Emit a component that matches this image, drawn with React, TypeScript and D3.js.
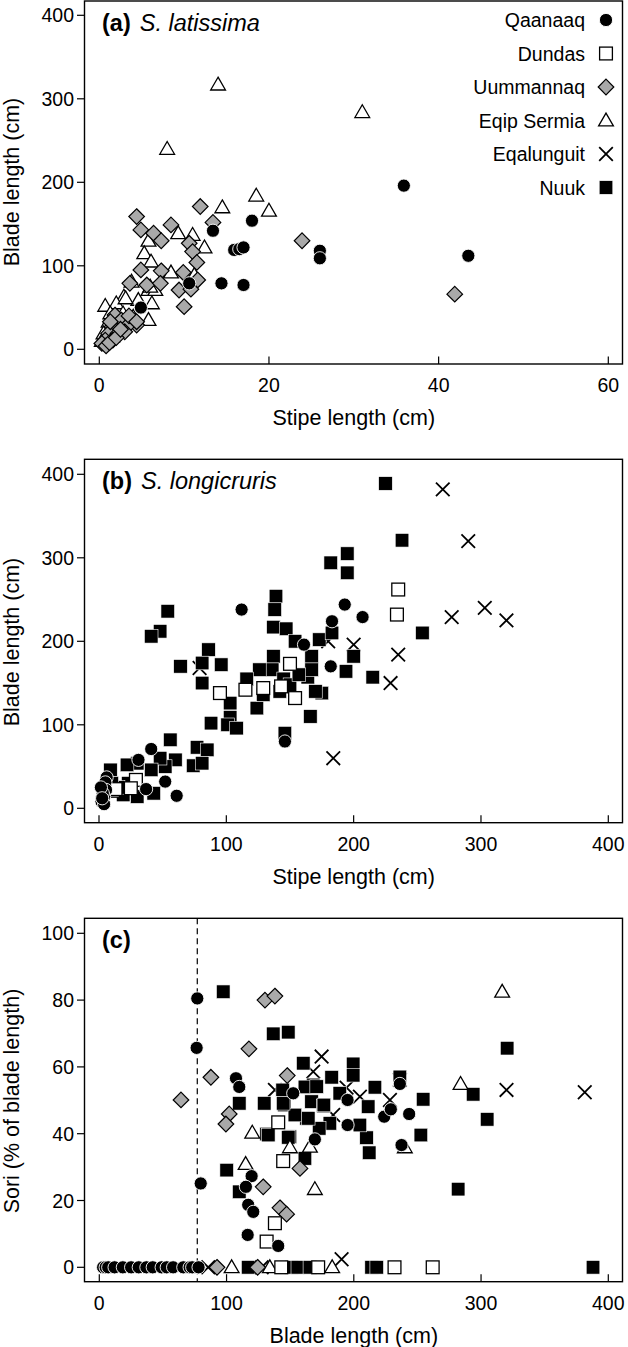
import React from 'react';
import * as d3 from 'd3';

type P = [number, number];

const siteNames = ['Qaanaaq', 'Dundas', 'Uummannaq', 'Eqip Sermia', 'Eqalunguit', 'Nuuk'];
const drawOrder = ['Eqalunguit', 'Nuuk', 'Eqip Sermia', 'Uummannaq', 'Dundas', 'Qaanaaq'];

// ---------- Panel (a) S. latissima: stipe length vs blade length ----------
const aQaanaaq: P[] = [[13.4,142],[18.0,154],[15.9,119],[16.5,120],[17.0,122],[10.6,79],[14.4,79],[17.0,77],[4.9,50],[35.9,196],[43.5,112],[26.0,118],[26.0,109]];
const aDundas: P[] = [];
const aUummannaq: P[] = [[11.9,171],[4.4,159],[4.9,143],[6.4,139],[7.3,130],[8.45,149],[10.6,127],[11.0,117],[11.5,104],[4.9,95],[7.3,94],[9.9,92],[11.6,83],[3.6,79],[5.6,77],[7.2,79],[9.4,71],[10.8,72],[10.0,51],[1.85,41],[2.6,35],[4.4,29],[3.4,29],[1.5,27],[1.1,19],[2.2,19],[0.7,11],[1.6,11],[0.3,7],[3.0,21],[1.3,33],[13.4,152],[23.9,130],[41.9,66],[0.8,4],[1.2,8],[2.0,14],[2.5,24],[3.5,40],[4.4,33]];
const aEqipSermia: P[] = [[14,317],[8,240],[14.5,170],[18.5,184],[20,166],[31,284],[9.3,139],[11.0,137],[12.4,122],[5.8,130],[5.3,115],[6.1,105],[8.45,92],[3.8,81],[5.8,71],[6.6,71],[2.9,63],[6.2,55],[0.7,52],[2.0,55],[5.8,35],[4.0,39],[1.1,33],[2.3,28],[0.5,19],[2.8,43],[4.6,59],[1.3,43],[11.2,89],[6.0,75],[3.1,61],[0.3,10],[1.5,15]];
const aEqalunguit: P[] = [];
const aNuuk: P[] = [];

// ---------- Panel (b) S. longicruris ----------
const bQaanaaq: P[] = [[112,238],[161,196],[193,244],[207,229],[183,224],[182,170],[146,80],[41,71],[31,58],[37,23],[52,32],[61,15],[6,37],[5,31],[5.5,22],[4,14],[2,8],[3,18],[1.5,25],[4,5],[2.5,12]];
const bDundas: P[] = [[29,34],[25,24],[11,21],[13,23],[95,138],[115,142],[129,144],[143,146],[150,173],[154,132],[235,262],[234,232]];
const bUummannaq: P[] = [];
const bEqipSermia: P[] = [];
const bEqalunguit: P[] = [[270,382],[290,320],[303,240],[277,229],[320,225],[200,196],[235,184],[229,150],[184,60],[180,200],[79,168]];
const bNuuk: P[] = [[225,389],[238,321],[182,294],[195,305],[195,282],[254,210],[215,157],[194,164],[200,182],[166,110],[164,157],[175,138],[167,182],[167,166],[173,202],[183,210],[54,236],[48,212],[41,206],[139,254],[138,238],[137,217],[147,215],[154,200],[64,170],[86,190],[81,174],[96,172],[81,150],[137,182],[136,166],[126,166],[116,155],[124,120],[103,126],[103,109],[88,102],[101,100],[108,96],[129,136],[146,90],[145,155],[142,140],[56,82],[77,73],[85,70],[74,51],[81,54],[60,58],[52,50],[48,60],[41,46],[30,54],[22,52],[9,46],[43,18],[30,14],[19,16],[23,30],[15,25],[10,30],[150,148],[157,160],[170,140]];

// ---------- Panel (c) sori vs blade length ----------
const cQaanaaq: P[] = [[77,80.5],[76.5,65.7],[79.7,25.1],[107.4,56.6],[110,54],[119.7,27.3],[115.2,24.1],[117,18.7],[121,16.6],[116.6,9.7],[140.6,6.4],[152.4,52.1],[169.4,38.3],[195.1,50.1],[195.1,42.6],[223.9,45.1],[229.1,47.3],[236.2,54.9],[243.5,45.9],[237.5,36.6],[3,0],[5,0],[7,0],[12,0],[18.5,0],[25,0],[31,0],[37,0],[42,0],[49,0],[53,0],[58,0],[66,0],[71,0],[73,0],[78,0]];
const cDundas: P[] = [[140.6,43.4],[144.5,31.8],[138,13.2],[131.5,7.7],[143,0],[172,0],[232,0],[262,0]];
const cUummannaq: P[] = [[64.2,50.1],[87.7,56.9],[102.1,45.9],[99.5,42.9],[117.6,65.4],[130.2,80],[138,81.2],[147.7,57.4],[128.8,24.1],[142,17.8],[147.2,15.9],[157.7,29.6],[92.5,0],[124.4,0]];
const cEqipSermia: P[] = [[120.2,40.3],[115,30.9],[169.4,23.4],[165.5,36.1],[149.8,35.9],[316.6,82.5],[283.9,54.9],[240.1,35.9],[104,0],[134,0],[183,0]];
const cEqalunguit: P[] = [[320,53.1],[381.5,52.4],[174.7,63.1],[168.1,58.6],[194.3,53.8],[228.4,50.1],[236.2,56.1],[183.8,45.6],[204.8,51.1],[138,53.1],[190.4,2.4],[85.6,0],[127.6,0]];
const cNuuk: P[] = [[97.4,82.5],[136.7,69.9],[148.5,70.4],[110,49.1],[129.6,49.1],[100.1,29.1],[110,22.6],[131.5,39.9],[149.8,39.1],[144.1,53.1],[145.3,48.6],[160.3,61.1],[161.6,32.6],[168.1,54.6],[166.8,49.6],[162.9,44.6],[320.5,65.6],[293.8,51.8],[304.8,44.3],[282,23.4],[254.5,50.3],[252.7,39.6],[216.6,53.9],[211.3,48.1],[210,38.8],[212.1,34.3],[204.8,42.6],[199.5,60.9],[199.5,57.5],[182.6,56.9],[189,52.1],[176,48.3],[181.2,43.1],[172.8,41.6],[164.2,44.6],[161.6,54],[236.2,57],[153.7,45.6],[170.8,54.1],[176.5,48.6],[132.8,39.6],[148.5,38.9],[144.5,49.1],[117,0],[151,0],[156,0],[165.5,0],[214,0],[218,0],[388,0]];

const xTicksA = [0, 20, 40, 60];
const yTicksAB = [0, 100, 200, 300, 400];
const xTicksBC = [0, 100, 200, 300, 400];
const yTicksC = [0, 20, 40, 60, 80, 100];
const soriThreshold = 77;

const FONT = '"Liberation Sans", Arial, Helvetica, sans-serif';

type Panel = {
  key: string;
  label: string;
  species: string;
  box: { left: number; right: number; top: number; bottom: number };
  xDomain: [number, number]; xRange: [number, number];
  yDomain: [number, number]; yRange: [number, number];
  xTicks: number[]; yTicks: number[];
  xTitle: string; yTitle: string; yTitleCenter: number;
  data: Record<string, P[]>;
  threshold?: number;
  legend?: boolean;
};

const panels: Panel[] = [
  {
    key: 'a', label: '(a)', species: 'S. latissima',
    box: { left: 84.5, right: 622.5, top: 1, bottom: 364 },
    xDomain: [0, 60], xRange: [99.3, 608.3], yDomain: [0, 400], yRange: [349.3, 15.3],
    xTicks: xTicksA, yTicks: yTicksAB,
    xTitle: 'Stipe length (cm)', yTitle: 'Blade length (cm)', yTitleCenter: 182,
    data: { Qaanaaq: aQaanaaq, Dundas: aDundas, Uummannaq: aUummannaq, 'Eqip Sermia': aEqipSermia, Eqalunguit: aEqalunguit, Nuuk: aNuuk },
    legend: true,
  },
  {
    key: 'b', label: '(b)', species: 'S. longicruris',
    box: { left: 84.5, right: 622.5, top: 459.3, bottom: 822.7 },
    xDomain: [0, 400], xRange: [99, 608.3], yDomain: [0, 400], yRange: [808.3, 474.3],
    xTicks: xTicksBC, yTicks: yTicksAB,
    xTitle: 'Stipe length (cm)', yTitle: 'Blade length (cm)', yTitleCenter: 642,
    data: { Qaanaaq: bQaanaaq, Dundas: bDundas, Uummannaq: bUummannaq, 'Eqip Sermia': bEqipSermia, Eqalunguit: bEqalunguit, Nuuk: bNuuk },
  },
  {
    key: 'c', label: '(c)', species: '',
    box: { left: 84.5, right: 622.5, top: 918.3, bottom: 1281.7 },
    xDomain: [0, 400], xRange: [99.3, 608.3], yDomain: [0, 100], yRange: [1267.3, 933.3],
    xTicks: xTicksBC, yTicks: yTicksC,
    xTitle: 'Blade length (cm)', yTitle: 'Sori (% of blade length)', yTitleCenter: 1101,
    data: { Qaanaaq: cQaanaaq, Dundas: cDundas, Uummannaq: cUummannaq, 'Eqip Sermia': cEqipSermia, Eqalunguit: cEqalunguit, Nuuk: cNuuk },
    threshold: soriThreshold,
  },
];

function Marker({ site, x, y }: { site: string; x: number; y: number }) {
  switch (site) {
    case 'Qaanaaq':
      return <circle cx={x} cy={y} r={6.6} fill="#000" stroke="#fff" strokeWidth={0.9} />;
    case 'Dundas': {
      const s = 12.8;
      return <rect x={x - s / 2} y={y - s / 2} width={s} height={s} fill="#fff" stroke="#000" strokeWidth={1.3} />;
    }
    case 'Uummannaq': {
      const h = 7.8;
      return <path d={`M${x},${y - h}L${x + h},${y}L${x},${y + h}L${x - h},${y}Z`} fill="#a9a9a9" stroke="#000" strokeWidth={1.2} />;
    }
    case 'Eqip Sermia': {
      const w = 7.4, ht = 12.8;
      return <path d={`M${x},${y - ht * 0.58}L${x + w},${y + ht * 0.42}L${x - w},${y + ht * 0.42}Z`} fill="#fff" stroke="#000" strokeWidth={1.3} strokeLinejoin="miter" />;
    }
    case 'Eqalunguit': {
      const h = 6.8;
      return <path d={`M${x - h},${y - h}L${x + h},${y + h}M${x - h},${y + h}L${x + h},${y - h}`} fill="none" stroke="#000" strokeWidth={1.8} />;
    }
    case 'Nuuk': {
      const s = 13.6;
      return <rect x={x - s / 2} y={y - s / 2} width={s} height={s} fill="#000" stroke="#fff" strokeWidth={0.6} />;
    }
    default:
      return null;
  }
}

function PanelView({ p }: { p: Panel }) {
  const x = d3.scaleLinear().domain(p.xDomain).range(p.xRange);
  const y = d3.scaleLinear().domain(p.yDomain).range(p.yRange);
  const { left, right, top, bottom } = p.box;
  const xc = (p.xRange[0] + p.xRange[1]) / 2;
  return (
    <g>
      {p.threshold !== undefined && (
        <line x1={x(p.threshold)} x2={x(p.threshold)} y1={top} y2={bottom} stroke="#000" strokeWidth={1.2} strokeDasharray="6,4" />
      )}
      {drawOrder.map((site) => (
        <g key={site}>
          {(p.data[site] || []).map((d, i) => (
            <Marker key={i} site={site} x={x(d[0])} y={y(d[1])} />
          ))}
        </g>
      ))}
      <rect x={left} y={top} width={right - left} height={bottom - top} fill="none" stroke="#000" strokeWidth={1.4} />
      {p.yTicks.map((t) => (
        <g key={'y' + t}>
          <line x1={left - 7.5} x2={left} y1={y(t)} y2={y(t)} stroke="#000" strokeWidth={1.2} />
          <text x={left - 10.5} y={y(t)} dy="0.36em" textAnchor="end" fontSize={19.5} fontFamily={FONT}>{t}</text>
        </g>
      ))}
      {p.xTicks.map((t) => (
        <g key={'x' + t}>
          <line x1={x(t)} x2={x(t)} y1={bottom} y2={bottom - 7.5} stroke="#000" strokeWidth={1.2} />
          <text x={x(t)} y={bottom + 28} textAnchor="middle" fontSize={19.5} fontFamily={FONT}>{t}</text>
        </g>
      ))}
      <text x={xc} y={bottom + 61} textAnchor="middle" fontSize={21.5} fontFamily={FONT}>{p.xTitle}</text>
      <text transform={`translate(19,${p.yTitleCenter}) rotate(-90)`} textAnchor="middle" fontSize={21.5} fontFamily={FONT}>{p.yTitle}</text>
      <text x={102} y={top + 30} fontSize={23.5} fontFamily={FONT}>
        <tspan fontWeight="bold">{p.label}</tspan>
        {p.species && <tspan dx={9} fontStyle="italic">{p.species}</tspan>}
      </text>
      {p.legend && siteNames.map((s, i) => {
        const ly = 20 + i * 33.5;
        return (
          <g key={s}>
            <text x={585} y={ly} dy="0.36em" textAnchor="end" fontSize={19.5} fontFamily={FONT}>{s}</text>
            <Marker site={s} x={606} y={ly} />
          </g>
        );
      })}
    </g>
  );
}

export default function App() {
  return (
    <svg width={628} height={1347} style={{ position: 'absolute', left: 0, top: 0, background: '#fff' }}>
      <rect x={0} y={0} width={628} height={1347} fill="#fff" />
      {panels.map((p) => <PanelView key={p.key} p={p} />)}
    </svg>
  );
}
